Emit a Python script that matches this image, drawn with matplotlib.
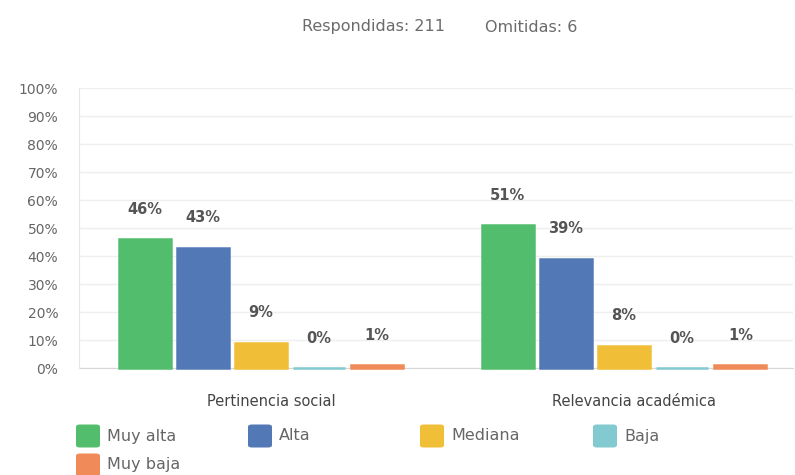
import numpy as np
import matplotlib
matplotlib.use("Agg")
import matplotlib.pyplot as plt
import matplotlib.transforms as mtransforms
from matplotlib.patches import FancyBboxPatch

plt.rcParams['font.family'] = ['DejaVu Sans']

# survey results (percent of responses)
categories = ['Pertinencia social', 'Relevancia académica']
series = ['Muy alta', 'Alta', 'Mediana', 'Baja', 'Muy baja']
values = {
    'Muy alta': [46, 51],
    'Alta': [43, 39],
    'Mediana': [9, 8],
    'Baja': [0, 0],
    'Muy baja': [1, 1],
}
colors = ['#52bd6c', '#5279b6', '#f0be37', '#82c9d0', '#f08a58']
yticks = list(range(0, 101, 10))
answered = 211
skipped = 6

fig = plt.figure(figsize=(7.95, 4.75), dpi=100)
W, H = 795, 475
ax = fig.add_axes([79 / W, 107 / H, 714 / W, 280 / H])

x = np.arange(len(categories))
step = 0.16
width = 0.144
for i, name in enumerate(series):
    pos = x + (i - 2) * step
    vals = values[name]
    ax.bar(pos, vals, width=width, color=colors[i], edgecolor=colors[i],
           linewidth=1.8, zorder=3, clip_on=False)
    for p, v in zip(pos, vals):
        ax.text(p, v + 10.7, f'{v}%', ha='center', va='center',
                fontsize=10.5, fontweight='bold', color='#555555', zorder=4)

ax.set_xlim(-0.501, 1.465)
ax.set_ylim(0, 100)
ax.set_yticks(yticks)
ax.set_yticklabels([f'{t}%' for t in yticks])
ax.yaxis.grid(True, color='#efefef', linewidth=1, zorder=0)
ax.tick_params(axis='y', length=0, pad=15, labelsize=10, labelcolor='#666666')

ax.set_xticks(x)
ax.set_xticklabels(categories, fontsize=10.5, color='#444444')
ax.tick_params(axis='x', length=0, pad=19)
shift = mtransforms.ScaledTranslation(10 / 100, 0, fig.dpi_scale_trans)
for lbl in ax.get_xticklabels():
    lbl.set_transform(lbl.get_transform() + shift)

for side in ['top', 'right']:
    ax.spines[side].set_visible(False)
ax.spines['left'].set_color('#e6e6e6')
ax.spines['bottom'].set_color('#d6d6d6')
ax.spines['bottom'].set_zorder(2)

fig.text(373 / W, 1 - 27 / H, f'Respondidas: {answered}', ha='center',
         va='center', fontsize=11.5, color='#6b6b6b')
fig.text(531 / W, 1 - 27 / H, f'Omitidas: {skipped}', ha='center',
         va='center', fontsize=11.5, color='#6b6b6b')

# legend drawn as rounded swatches in figure pixels
legend_pos = [(76, 436), (248, 436), (420, 436), (593, 436), (76, 465)]
for (px, py), name, c in zip(legend_pos, series, colors):
    box = FancyBboxPatch((px / W, 1 - (py + 11.5) / H), 24 / W, 23 / H,
                         boxstyle='round,pad=0,rounding_size=0.005',
                         transform=fig.transFigure, facecolor=c,
                         edgecolor='none')
    fig.patches.append(box)
    fig.text((px + 31) / W, 1 - py / H, name, ha='left', va='center',
             fontsize=11.5, color='#666666')

fig.savefig('out.png', dpi=100)
